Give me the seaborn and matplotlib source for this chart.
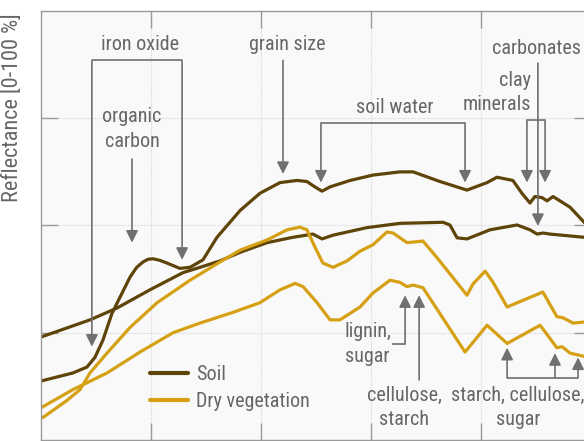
import numpy as np
import pandas as pd
import matplotlib
matplotlib.use("Agg")
import matplotlib.pyplot as plt
from matplotlib import font_manager as fm
import seaborn as sns

# ---------------- data (wavelength nm, reflectance %) ----------------
soil_a_wl = [400, 516, 567, 596, 625, 658, 687, 724, 748, 771, 789, 807, 832, 858, 905, 942, 989, 1040, 1124,
             1196, 1269, 1331, 1367, 1396, 1422, 1451, 1524, 1607, 1705, 1753, 1851, 1949, 2022,
             2058, 2116, 2149, 2178, 2196, 2222, 2240, 2262, 2324, 2375, 2400]
soil_a_rf = [5.5, 6.25, 6.8, 7.7, 9.3, 11.8, 13.3, 15.2, 16.1, 16.6, 16.85, 16.9, 16.75, 16.5, 16.0, 16.1, 16.8, 18.9, 21.4,
             23.0, 24.0, 24.2, 24.1, 23.6, 23.2, 23.6, 24.2, 24.7, 25.0, 25.0, 24.1, 23.3, 24.0,
             24.5, 24.2, 23.0, 22.1, 22.7, 22.6, 22.3, 22.7, 21.7, 20.3, 19.6]

soil_b_wl = [400, 578, 676, 796, 916, 978, 1051, 1124, 1222, 1316, 1389, 1422, 1462, 1585, 1705,
             1862, 1887, 1913, 1949, 2033, 2131, 2178, 2204, 2225, 2251, 2375, 2400]
soil_b_rf = [9.6, 11.2, 12.3, 14.0, 15.6, 16.1, 16.7, 17.5, 18.4, 18.9, 19.2, 18.75, 19.1, 19.8, 20.2,
             20.3, 20.05, 18.85, 18.75, 19.6, 20.05, 19.6, 19.2, 19.3, 19.2, 18.9, 18.8]

veg_a_wl = [407, 495, 542, 578, 640, 724, 822, 942, 1051, 1124, 1222, 1295, 1342, 1367, 1396, 1425,
            1462, 1513, 1560, 1607, 1658, 1680, 1731, 1789, 1840, 1949, 1971, 2015, 2044, 2095,
            2225, 2276, 2298, 2335, 2375, 2400]
veg_a_rf = [2.1, 3.7, 4.7, 6.25, 8.1, 10.5, 12.8, 14.9, 16.6, 17.7, 18.65, 19.6, 19.85, 19.6, 18.0, 16.5,
            16.1, 16.7, 17.6, 18.2, 19.4, 19.3, 18.4, 18.55, 17.0, 13.5, 14.55, 15.75, 14.7, 12.4,
            13.8, 11.5, 11.4, 10.9, 11.0, 11.1]

veg_b_wl = [400, 516, 640, 760, 880, 978, 1098, 1196, 1269, 1324, 1353, 1404, 1451, 1487, 1560, 1607,
            1669, 1705, 1731, 1753, 1789, 1942, 2022, 2095, 2215, 2276, 2295, 2324, 2375, 2400]
veg_b_rf = [3.0, 4.7, 6.25, 8.2, 10.0, 10.9, 11.9, 12.8, 14.0, 14.6, 14.3, 12.8, 11.2, 11.2, 12.4, 13.7,
            14.9, 14.7, 14.3, 14.45, 14.2, 8.2, 10.7, 9.0, 10.7, 8.6, 8.7, 8.1, 7.8, 7.8]

materials = ["Soil", "Dry vegetation"]
colors = ["#5e4408", "#d6a014"]

# ---------------- fonts ----------------
names = {f.name for f in fm.fontManager.ttflist}
font_family = "DejaVu Sans"
font_stretch = "condensed"
for cand in ["Roboto Condensed", "Liberation Sans Narrow", "Open Sans Condensed", "DejaVu Sans Condensed"]:
    if cand in names:
        font_family = cand
        font_stretch = "normal"
        break

sns.set_theme(style="white")
plt.rcParams["font.family"] = [font_family, "DejaVu Sans"]
plt.rcParams["font.stretch"] = font_stretch

TXT = "#666666"
FS = 14.5
LS = 1.35

rows = []
for name, wl, rf, mat in [("soil_a", soil_a_wl, soil_a_rf, materials[0]),
                          ("soil_b", soil_b_wl, soil_b_rf, materials[0]),
                          ("veg_a", veg_a_wl, veg_a_rf, materials[1]),
                          ("veg_b", veg_b_wl, veg_b_rf, materials[1])]:
    for w, r in zip(wl, rf):
        rows.append({"wl": w, "refl": r, "material": mat, "sample": name})
df = pd.DataFrame(rows)

fig = plt.figure(figsize=(5.84, 4.41), dpi=100)
ax = fig.add_axes([41 / 584, 1 - 440 / 441, 550 / 584, 429 / 441])
ax.set_facecolor("#f9f9f9")

sns.lineplot(data=df, x="wl", y="refl", hue="material", units="sample", estimator=None,
             sort=False, palette=dict(zip(materials, colors)), linewidth=2.3, ax=ax)
for ln in ax.get_lines():
    ln.set_solid_joinstyle("round")
    ln.set_solid_capstyle("round")

ax.set_xlim(400, 2400)
ax.set_ylim(0, 40)
ax.set_xticks([800, 1200, 1600, 2000])
ax.set_yticks([10, 20, 30])
ax.tick_params(axis="both", which="both", direction="in", length=12, width=1, color="#9a9a9a",
               labelbottom=False, labelleft=False, top=True, right=True, bottom=True, left=True)
ax.grid(True, linestyle=(0, (1, 1)), color="#d8d8d8", linewidth=0.8)
for s in ax.spines.values():
    s.set_color("#9a9a9a")
    s.set_linewidth(1)
ax.set_xlabel("")
ax.set_ylabel("Reflectance [0-100 %]", fontsize=16, color=TXT, loc="top")
ax.yaxis.set_label_coords(-0.032, 0.995)

leg = ax.legend(loc="upper left", bbox_to_anchor=((150 - 41) / 550, (440 - 365) / 429),
                frameon=False, fontsize=FS, handlelength=1.9, handletextpad=0.4,
                labelspacing=0.4, borderpad=0, borderaxespad=0)
for t in leg.get_texts():
    t.set_color(TXT)
for h in leg.get_lines():
    h.set_linewidth(3)

AP = dict(arrowstyle="-|>,head_length=0.6,head_width=0.3", color="#707070", lw=1.2,
          shrinkA=0, shrinkB=0)


def arrow(x, y0, y1):
    ax.annotate("", xy=(x, y1), xytext=(x, y0), arrowprops=AP)


def hline(x0, x1, y):
    ax.plot([x0, x1], [y, y], color="#707070", lw=1.2, solid_capstyle="butt")


# iron oxide
ax.text(760, 36.9, "iron oxide", ha="center", va="center", fontsize=FS, color=TXT)
hline(585, 913, 35.4)
arrow(585, 35.4, 8.7)
arrow(913, 35.4, 16.8)
# organic carbon
ax.text(731, 29.0, "organic\ncarbon", ha="center", va="center", fontsize=FS, color=TXT, linespacing=LS)
arrow(731, 26.2, 18.4)
# grain size
ax.text(1295, 36.9, "grain size", ha="center", va="center", fontsize=FS, color=TXT)
arrow(1280, 35.4, 24.8)
# soil water
ax.text(1687, 31.0, "soil water", ha="center", va="center", fontsize=FS, color=TXT)
hline(1418, 1942, 29.56)
arrow(1418, 29.56, 24.0)
arrow(1942, 29.56, 24.0)
# clay minerals
ax.text(2182, 32.4, "clay\nminerals", ha="right", va="center", fontsize=FS, color=TXT,
        multialignment="right", linespacing=LS)
hline(2167, 2233, 29.84)
arrow(2167, 29.84, 24.0)
arrow(2233, 29.84, 24.0)
# carbonates
ax.text(2365, 36.55, "carbonates", ha="right", va="center", fontsize=FS, color=TXT)
arrow(2207, 35.15, 19.95)
# lignin, sugar
ax.text(1505, 8.95, "lignin,\nsugar", ha="left", va="center", fontsize=FS, color=TXT, linespacing=LS)
hline(1676, 1724, 8.95)
arrow(1724, 8.95, 13.5)
# cellulose, starch
ax.text(1720, 3.0, "cellulose,\nstarch", ha="center", va="center", fontsize=FS, color=TXT, linespacing=LS)
arrow(1775, 5.6, 13.5)
# starch, cellulose, sugar
ax.text(2135, 3.0, "starch, cellulose,\nsugar", ha="center", va="center", fontsize=FS, color=TXT,
        linespacing=LS)
hline(2095, 2353, 5.78)
arrow(2095, 5.78, 8.6)
arrow(2269, 5.78, 8.1)
arrow(2353, 5.78, 7.7)

fig.savefig("out.png", dpi=100, facecolor="white")
